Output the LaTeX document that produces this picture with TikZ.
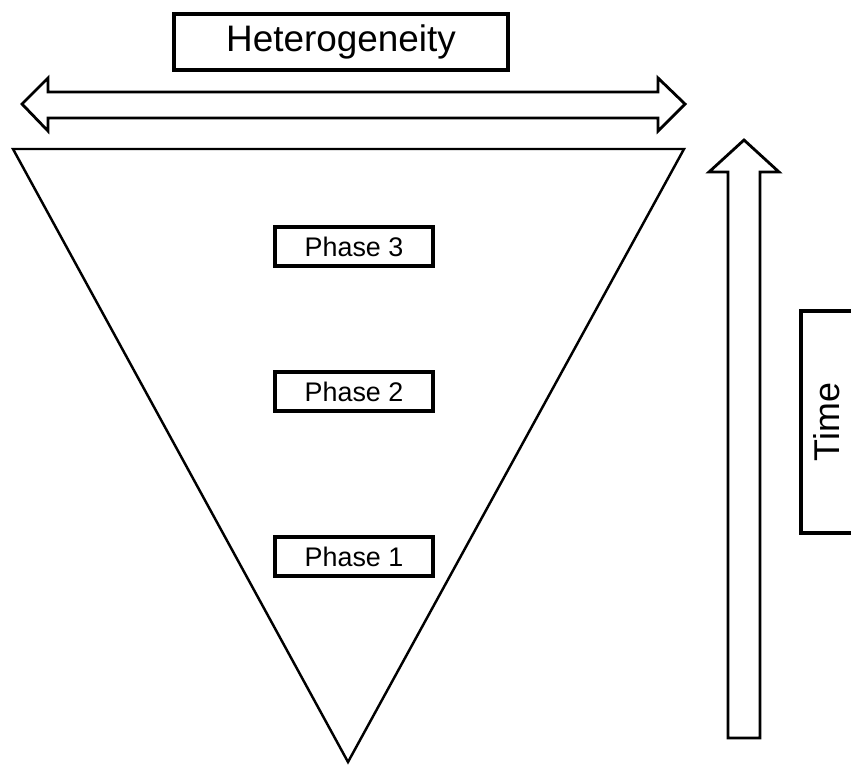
\documentclass[tikz,border=0pt]{standalone}
\usepackage{fontspec}
\setmainfont{Liberation Sans}
\begin{document}
\begin{tikzpicture}
[x=0.02cm,y=-0.02cm,%
  boxDecorate/.style={draw,line width=2.2pt,inner sep=0pt},%
  phaseDecorate/.style={boxDecorate,minimum width=3.16cm,minimum height=0.78cm,font=\fontsize{15.3}{18}\selectfont},%
  arrowDecorate/.style={line width=1.6pt,line join=miter},%
  funnelDecorate/.style={line width=1.4pt,line join=miter}]
\clip (0,0) rectangle (851,764);
%% funnel
\draw[funnelDecorate] (13,149) -- (684,149) -- (348,762) -- cycle;
%% phases
\foreach \nodename/\y/\num in {p3/246.5/3, p2/391.5/2, p1/556.5/1}
{
  \node (\nodename) at (354,\y) [phaseDecorate] {Phase \num};
}
%% heterogeneity
\node (het) at (341,42) [boxDecorate,minimum width=6.68cm,minimum height=1.12cm,
  font=\fontsize{21}{25}\selectfont] {Heterogeneity};
\draw[arrowDecorate] (22,104) -- (48,78) -- (48,92) -- (658,92) -- (658,78)
  -- (685,104) -- (658,131) -- (658,118) -- (48,118) -- (48,131) -- cycle;
%% time
\node (time) at (827,422) [boxDecorate,rotate=90,minimum width=4.44cm,minimum height=1.04cm,
  font=\fontsize{20.4}{24}\selectfont] {Time};
\draw[arrowDecorate] (744,140) -- (779,172) -- (760,172) -- (760,738)
  -- (728,738) -- (728,172) -- (709,172) -- cycle;
\end{tikzpicture}
\end{document}
